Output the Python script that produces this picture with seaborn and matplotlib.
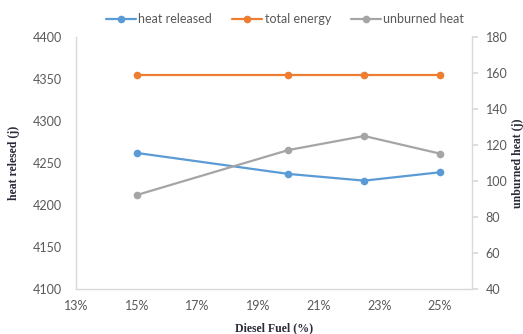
import matplotlib
matplotlib.use("Agg")
import matplotlib.pyplot as plt
import seaborn as sns
import pandas as pd
from matplotlib.ticker import FuncFormatter, MultipleLocator
from matplotlib.lines import Line2D

# Diesel fuel share (%)
diesel_pct = [15, 20, 22.5, 25]
# Energy balance (j)
heat_released = [4262, 4237, 4229, 4239]
total_energy = [4355, 4355, 4355, 4355]
unburned_heat = [92.2, 117.2, 125.0, 115.2]

series_names = ["heat released", "total energy", "unburned heat"]
colors = ["#5B9BD5", "#ED7D31", "#A5A5A5"]

df = pd.DataFrame({
    "diesel": diesel_pct,
    "heat released": heat_released,
    "total energy": total_energy,
    "unburned heat": unburned_heat,
})

sns.set_theme(style="white")
plt.rcParams["font.family"] = ["Lato", "DejaVu Sans"]

fig = plt.figure(figsize=(5.23, 3.34), dpi=100)
ax = fig.add_axes([0.1453, 0.1347, 0.757, 0.7545])
ax2 = ax.twinx()

lw = 1.6
ms = 5.5
sns.lineplot(data=df, x="diesel", y="heat released", ax=ax, color=colors[0],
             marker="o", markersize=ms, markeredgewidth=0, linewidth=lw)
sns.lineplot(data=df, x="diesel", y="total energy", ax=ax, color=colors[1],
             marker="o", markersize=ms, markeredgewidth=0, linewidth=lw)
sns.lineplot(data=df, x="diesel", y="unburned heat", ax=ax2, color=colors[2],
             marker="o", markersize=ms, markeredgewidth=0, linewidth=lw)

ax.set_xlim(13, 26.05)
ax.set_ylim(4100, 4400)
ax2.set_ylim(40, 180)
ax.set_xticks([13, 15, 17, 19, 21, 23, 25])
ax.xaxis.set_major_formatter(FuncFormatter(lambda v, p: f"{v:.0f}%"))
ax.yaxis.set_major_locator(MultipleLocator(50))
ax2.yaxis.set_major_locator(MultipleLocator(20))

tick_color = "#595959"
spine_color = "#D9D9D9"
for a in (ax, ax2):
    for s in a.spines.values():
        s.set_visible(False)
    a.tick_params(labelsize=9, colors=tick_color)
    a.grid(False)
ax.spines["left"].set_visible(True)
ax.spines["bottom"].set_visible(True)
ax2.spines["right"].set_visible(True)
for s in (ax.spines["left"], ax.spines["bottom"], ax2.spines["right"]):
    s.set_color(spine_color)
    s.set_linewidth(1.0)
ax.tick_params(axis="y", length=0, pad=10)
ax.tick_params(axis="x", length=0, pad=8)
ax2.tick_params(axis="y", length=4, color=spine_color, pad=6)

label_font = dict(family=["Liberation Serif", "DejaVu Serif"], fontweight="bold",
                  fontsize=8.5, color="#2A2A3A")
ax.set_xlabel("Diesel Fuel (%)", labelpad=7, **label_font)
ax.set_ylabel("heat relesed (j)", labelpad=9, **label_font)
ax2.set_ylabel("unburned heat (j)", labelpad=3, **label_font)

handles = [Line2D([], [], color=c, marker="o", markersize=ms, markeredgewidth=0,
                  linewidth=lw) for c in colors]
fig.legend(handles, series_names, loc="center", bbox_to_anchor=(0.545, 0.943),
           ncol=3, frameon=False, fontsize=9, handlelength=2.4,
           columnspacing=1.6, handletextpad=0.2, labelcolor=tick_color)

fig.savefig("out.png", dpi=100)
